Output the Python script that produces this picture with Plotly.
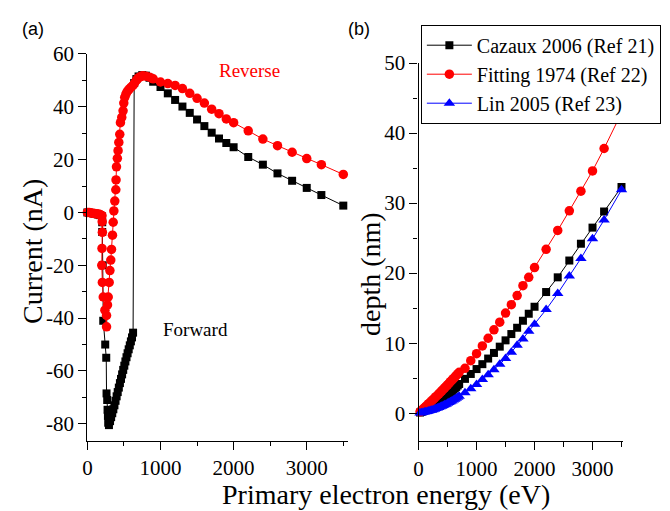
import plotly.graph_objects as go

# ---------------- Panel (a): current vs energy ----------------
fwd_E = [0, 25, 50, 75, 100, 125, 150, 175, 200, 203, 203, 210, 217, 244, 258,
         262, 271, 276, 281, 285,
         295, 310, 325, 340, 355, 370, 385, 400, 415, 430, 445, 460, 475, 490,
         505, 520, 535, 550, 565, 580, 595, 610, 625,
         640, 670, 700, 750, 800, 850, 900,
         1000, 1100, 1200, 1300, 1400, 1500, 1600, 1700, 1800, 1900, 2000,
         2200, 2400, 2600, 2800, 3000, 3200, 3500]
fwd_I = [0, -0.1, -0.2, -0.3, -0.5, -0.6, -0.8, -1.0, -1.5, -3.7, -7.4, -20, -41, -50, -55,
         -68.5, -71, -74.7, -77, -79.6,
         -80.5, -79, -77.5, -76, -74.5, -73, -71.3, -69.6, -68, -66.3, -64.6, -63, -61.3, -59.6,
         -58, -56.4, -54.8, -53.3, -51.8, -50.3, -48.8, -47.3, -45.5,
         49, 50.5, 51.5, 52, 51.8, 51, 49.5,
         47.5, 45.1, 42.6, 40.1, 37.7, 35.2, 32.7, 30.2, 28.0, 26.3, 24.7,
         21.0, 18.1, 14.8, 12.0, 9.3, 6.6, 2.6]

rev_E = [0, 25, 50, 75, 100, 125, 150, 175, 200, 203, 205, 200, 197, 205, 217, 240, 262,
         262, 275, 285, 298, 308, 320, 330, 343, 353, 362, 375, 389, 392, 398, 410,
         420, 430, 443, 452, 470, 488, 498, 511, 527, 543, 560, 579, 600, 624, 645,
         669, 690, 715, 740, 760, 800, 850, 900,
         1000, 1100, 1200, 1300, 1400, 1500, 1600, 1700, 1800, 1900, 2000,
         2200, 2400, 2600, 2800, 3000, 3200, 3500]
rev_I = [0, 0, -0.2, -0.3, -0.4, -0.5, -0.6, -0.8, -1.2, -3.5, -7.5, -13.6, -20, -26.5, -32, -37, -43.3,
         -39, -35, -32, -26.5, -22, -18, -14, -8.6, -3.7, 0.6, 4.3, 8.6, 12.3, 17.3, 20.5,
         23.4, 26.5, 29.6, 34, 36, 38.5, 41.4, 43.6, 44.8, 45.7, 46.3, 46.9, 47.5, 48.1, 49,
         50, 50.8, 51.2, 51.6, 51.8, 51.6, 51.2, 50.6,
         49.4, 48.8, 48.1, 46.9, 45.1, 43.2, 41.4, 39.1, 37.4, 35.4, 34.0,
         30.9, 27.8, 25.3, 22.8, 20.4, 18.1, 14.4]

current_ticks = [-80, -60, -40, -20, 0, 20, 40, 60]
current_ticktext = ["-80", "-60", "-40", "-20", "0", "20", "40", "60"]

# ---------------- Panel (b): depth vs energy ----------------
depth_E = [25, 50, 75, 100, 125, 150, 175, 200, 225, 250, 275, 300, 325, 350,
           375, 400, 425, 450, 475, 500, 525, 550, 575, 600, 625, 650, 675, 700,
           800, 900, 1000, 1100, 1200, 1300, 1400, 1500, 1600, 1700, 1800, 1900, 2000,
           2200, 2400, 2600, 2800, 3000, 3200, 3500]
cazaux = [0.09, 0.18, 0.28, 0.39, 0.49, 0.60, 0.72, 0.84, 0.96, 1.09, 1.23, 1.37, 1.51, 1.65,
          1.80, 1.96, 2.12, 2.28, 2.45, 2.63, 2.80, 2.98, 3.17, 3.36, 3.55, 3.75, 3.96, 4.17,
          4.9, 5.6, 6.3, 7.0, 7.8, 8.6, 9.5, 10.4, 11.3, 12.2, 13.2, 14.2, 15.2,
          17.3, 19.4, 21.8, 24.2, 26.5, 28.8, 32.3]
fitting = [0.19, 0.38, 0.57, 0.76, 0.96, 1.15, 1.35, 1.55, 1.75, 1.95, 2.15, 2.36, 2.56, 2.77,
           2.98, 3.19, 3.40, 3.62, 3.83, 4.05, 4.27, 4.49, 4.71, 4.93, 5.16, 5.38, 5.61, 5.84,
           6.4, 7.5, 8.5, 9.6, 10.7, 11.9, 13.0, 14.3, 15.5, 16.8, 18.2, 19.4, 20.8,
           23.4, 26.1, 28.9, 31.7, 34.6, 37.8, 42.9]
lin = [0.03, 0.07, 0.11, 0.15, 0.20, 0.25, 0.31, 0.37, 0.43, 0.50, 0.57, 0.65, 0.73, 0.81,
       0.90, 0.99, 1.09, 1.19, 1.29, 1.40, 1.51, 1.63, 1.75, 1.87, 2.00, 2.13, 2.27, 2.41,
       2.9, 3.5, 4.1, 4.8, 5.5, 6.2, 7.0, 7.8, 8.7, 9.7, 10.6, 11.7, 12.7,
       14.8, 17.1, 19.6, 22.1, 24.9, 27.6, 31.9]

legend_names = ["Cazaux 2006 (Ref 21)", "Fitting 1974 (Ref 22)", "Lin 2005 (Ref 23)"]

SERIF = "Liberation Serif"
W, H = 670, 511

fig = go.Figure()

fig.add_trace(go.Scatter(x=fwd_E, y=fwd_I, mode="lines+markers", xaxis="x", yaxis="y",
                         line=dict(color="black", width=1),
                         marker=dict(symbol="square", size=8, color="black"),
                         showlegend=False, cliponaxis=False))
fig.add_trace(go.Scatter(x=rev_E, y=rev_I, mode="lines+markers", xaxis="x", yaxis="y",
                         line=dict(color="red", width=1),
                         marker=dict(symbol="circle", size=9.5, color="red"),
                         showlegend=False, cliponaxis=False))

fig.add_trace(go.Scatter(x=depth_E, y=cazaux, mode="lines+markers", xaxis="x2", yaxis="y2",
                         name=legend_names[0], line=dict(color="black", width=1),
                         marker=dict(symbol="square", size=8, color="black"), cliponaxis=False))
fig.add_trace(go.Scatter(x=depth_E, y=fitting, mode="lines+markers", xaxis="x2", yaxis="y2",
                         name=legend_names[1], line=dict(color="red", width=1),
                         marker=dict(symbol="circle", size=9.5, color="red"), cliponaxis=False))
fig.add_trace(go.Scatter(x=depth_E, y=lin, mode="lines+markers", xaxis="x2", yaxis="y2",
                         name=legend_names[2], line=dict(color="blue", width=1),
                         marker=dict(symbol="triangle-up", size=10, color="blue"), cliponaxis=False))

axis_common = dict(showline=True, linecolor="black", linewidth=1.3, ticks="outside",
                   ticklen=8, tickwidth=1.3, tickcolor="black", showgrid=False,
                   zeroline=False, tickfont=dict(family=SERIF, size=21, color="black"))
minor_common = dict(ticks="outside", ticklen=4.5, tickcolor="black", tickwidth=1.3, showgrid=False)

fig.update_layout(
    width=W, height=H,
    margin=dict(l=0, r=0, t=0, b=0),
    paper_bgcolor="white", plot_bgcolor="white",
    xaxis=dict(domain=[83 / W, 346 / W], range=[0, 3570], dtick=1000, anchor="y",
               minor=dict(dtick=500, **minor_common), **axis_common),
    yaxis=dict(domain=[1 - 439 / H, 1 - 43 / H], range=[-86.4, 60], anchor="x",
               tickmode="array", tickvals=current_ticks, ticktext=current_ticktext,
               minor=dict(tick0=0, dtick=10, **minor_common), **axis_common),
    xaxis2=dict(domain=[416.7 / W, 623 / W], range=[0, 3532], dtick=1000, anchor="y2",
                minor=dict(dtick=500, **minor_common), **axis_common),
    yaxis2=dict(domain=[1 - 439.5 / H, 1 - 52.3 / H], range=[-4, 50], dtick=10, anchor="x2",
                minor=dict(dtick=5, **minor_common), **axis_common),
    legend=dict(x=419 / W, y=1 - 13 / H, xanchor="left", yanchor="top",
                bordercolor="black", borderwidth=1, bgcolor="white",
                font=dict(family=SERIF, size=20, color="black"),
                tracegroupgap=0, itemwidth=45),
    showlegend=True,
)

annots = [
    dict(text="Primary electron energy (eV)", x=384 / W, y=1 - 494 / H,
         font=dict(family=SERIF, size=28, color="black")),
    dict(text="Current (nA)", x=27 / W, y=1 - 245 / H, textangle=-90,
         font=dict(family=SERIF, size=28, color="black")),
    dict(text="depth (nm)", x=368 / W, y=1 - 268 / H, textangle=-90,
         font=dict(family=SERIF, size=28, color="black")),
    dict(text="Reverse", x=246 / W, y=1 - 60 / H,
         font=dict(family=SERIF, size=19, color="red")),
    dict(text="Forward", x=192 / W, y=1 - 325 / H,
         font=dict(family=SERIF, size=19, color="black")),
    dict(text="(a)", x=28 / W, y=1 - 17 / H,
         font=dict(family="Liberation Sans", size=18, color="black")),
    dict(text="(b)", x=357 / W, y=1 - 17 / H,
         font=dict(family="Liberation Sans", size=18, color="black")),
]
for a in annots:
    fig.add_annotation(xref="paper", yref="paper", showarrow=False,
                       xanchor="center", yanchor="middle", **a)

fig.write_html("out.html", config={"displayModeBar": False},
               post_script="document.body.style.margin='0px';document.body.style.overflow='hidden';")
